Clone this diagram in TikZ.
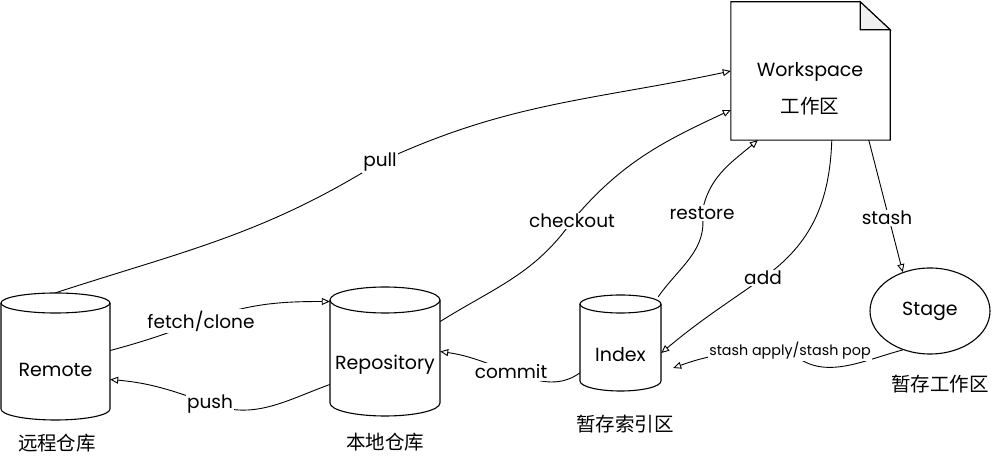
\documentclass[tikz,border=0pt]{standalone}
\usepackage{fontspec}
\setmainfont{Poppins}
\newfontfamily\cjk{Noto Sans CJK SC}
\usetikzlibrary{arrows.meta,shapes.geometric}
\tikzset{
  outline/.style={line width=1.1pt},
  shapebox/.style={draw=none, inner sep=0pt},
  conn/.style={line width=0.9pt, -{Triangle[open,length=8pt,width=7pt]}},
  lbl/.style={font=\fontsize{18.5}{21}\selectfont, inner sep=1.5pt, fill=white},
  smalllbl/.style={font=\fontsize{14.3}{16}\selectfont, inner sep=1pt, fill=white},
  txt/.style={font=\fontsize{19}{22}\selectfont, inner sep=0pt},
  cjklbl/.style={font=\cjk\fontsize{19.5}{22}\selectfont, inner sep=0pt}
}
\begin{document}
\begin{tikzpicture}[x=1pt,y=1pt]
\useasboundingbox (0,0) rectangle (1002,-462);

% Workspace (note shape)
\node[shapebox, minimum width=159pt, minimum height=138pt] (ws) at (810.5,-71) {};
\draw[outline] (ws.south west) -- (ws.north west) -- ([xshift=-30pt]ws.north east)
  -- ([yshift=-28pt]ws.north east) -- (ws.south east) -- cycle;
\draw[outline, fill=gray!12] ([xshift=-30pt]ws.north east) -- ([xshift=-30pt,yshift=-28pt]ws.north east)
  -- ([yshift=-28pt]ws.north east) -- cycle;
\node[txt] (wsname) at (810,-72) {Workspace};
\node[cjklbl] (wscn) at (810,-106) {工作区};

% Remote cylinder
\node[shapebox, minimum width=109pt, minimum height=127pt] (remote) at (55.5,-356.5) {};
\draw[outline] (1,-303) -- (1,-409) arc[start angle=180, end angle=360, x radius=54.5pt, y radius=11pt] -- (110,-303);
\draw[outline] (55.5,-303) ellipse[x radius=54.5pt, y radius=10pt];
\node[txt] (remotetxt) at (55.5,-370) {Remote};
\node[cjklbl] (remotecn) at (57,-443) {远程仓库};

% Repository cylinder
\node[shapebox, minimum width=110pt, minimum height=129pt] (repo) at (385,-351.5) {};
\draw[outline] (330,-300) -- (330,-403) arc[start angle=180, end angle=360, x radius=55pt, y radius=13pt] -- (440,-300);
\draw[outline] (385,-300) ellipse[x radius=55pt, y radius=13pt];
\node[txt] (repotxt) at (385,-365) {Repository};
\node[cjklbl] (repocn) at (385,-442) {本地仓库};

% Index cylinder
\node[shapebox, minimum width=81pt, minimum height=96pt] (index) at (620.5,-343) {};
\draw[outline] (580,-304) -- (580,-381) arc[start angle=180, end angle=360, x radius=40.5pt, y radius=10pt] -- (661,-304);
\draw[outline] (620.5,-304) ellipse[x radius=40.5pt, y radius=9pt];
\node[txt] (indextxt) at (620.5,-355) {Index};
\node[cjklbl] (indexcn) at (625,-424) {暂存索引区};

% Stage ellipse
\node[ellipse, draw, outline, minimum width=120pt, minimum height=86pt, inner sep=0pt,
  font=\fontsize{19}{22}\selectfont] (stage) at (930,-311) {Stage};
\node[cjklbl] (stagecn) at (940,-384) {暂存工作区};

% Connectors
\draw[conn] (remote.north) to[out=18,in=212] (380,-162) to[out=25,in=192] (ws.west);
\draw[conn] ([yshift=30pt]repo.east) to[out=32,in=235] (572,-221) to[out=50,in=205] ([yshift=-39pt]ws.west);
\draw[conn] ([xshift=-3pt,yshift=-2pt]index.north east) to[out=55,in=280] (702,-213) to[out=80,in=220] ([xshift=27pt]ws.south west);
\draw[conn] ([xshift=101pt]ws.south west) to[out=-92,in=35] (763,-278) to[out=215,in=40] ([yshift=-10pt]index.east);
\draw[conn] ([xshift=138pt]ws.south west) -- (stage.125);
\draw[conn] (stage.235) to[out=195,in=-45] (790,-351) to[out=180,in=20] ([xshift=12pt,yshift=-25pt]index.east);
\draw[conn] ([yshift=6pt]remote.east) to[out=15,in=200] (201,-321) to[out=20,in=180] ([yshift=50pt]repo.west);
\draw[conn] ([yshift=-33pt]repo.west) to[out=200,in=-20] (210,-404) to[out=160,in=-5] ([yshift=-23pt]remote.east);
\draw[conn] ([yshift=-30pt]index.west) to[out=215,in=-20] (511,-372) to[out=160,in=-8] (repo.east);

% Labels
\node[lbl] (lpull) at (380,-162) {pull};
\node[lbl] (lcheckout) at (572,-221) {checkout};
\node[lbl] (lrestore) at (702,-213) {restore};
\node[lbl] (ladd) at (763,-278) {add};
\node[lbl] (lstash) at (887,-218) {stash};
\node[smalllbl] (lapply) at (790,-351) {stash apply/stash pop};
\node[lbl] (lfetch) at (201,-321) {fetch/clone};
\node[lbl] (lpush) at (210,-404) {push};
\node[lbl] (lcommit) at (511,-372) {commit};
\end{tikzpicture}
\end{document}
